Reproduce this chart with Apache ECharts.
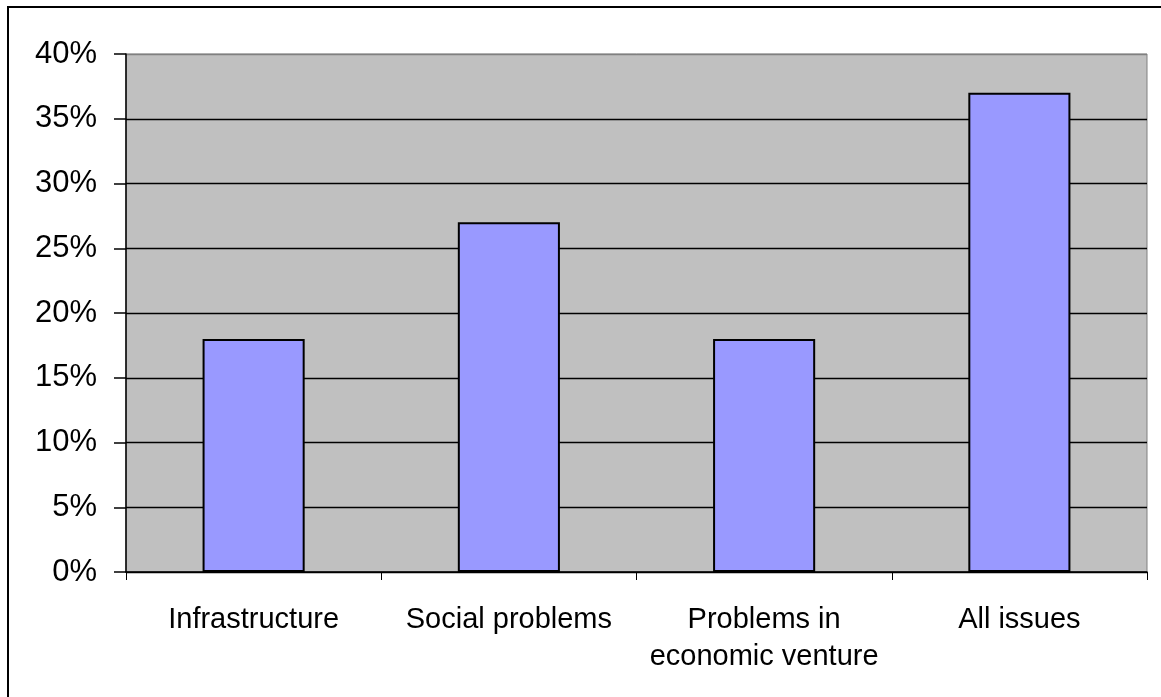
<!DOCTYPE html>
<html>
<head>
<meta charset="utf-8">
<script src="https://cdn.jsdelivr.net/npm/echarts@6/dist/echarts.min.js"></script>
<style>
html, body { margin: 0; padding: 0; background: #fff; }
#chart { width: 1161px; height: 697px; }
</style>
</head>
<body>
<div id="chart"></div>
<script>
// data
const categories = ['Infrastructure', 'Social problems', 'Problems in\neconomic venture', 'All issues'];
const shares = [18, 27, 18, 37];

// grid lines: black, except the top one which is the gray plot border
const splitColors = ['#000', '#000', '#000', '#000', '#000', '#000', '#000', '#000', '#808080'];

const chart = echarts.init(document.getElementById('chart'));

const option = {
    animation: false,
    textStyle: { fontFamily: 'Liberation Sans, Arial, sans-serif' },
    graphic: [
        {
            // outer frame, only top and left edges fall inside the picture
            type: 'rect',
            shape: { x: 8, y: 7, width: 1200, height: 800 },
            style: { fill: 'none', stroke: '#000', lineWidth: 2 },
            z: 100
        }
    ],
    grid: {
        left: 126,
        top: 54,
        right: 14,
        bottom: 125,
        show: true,
        backgroundColor: '#C0C0C0',
        borderColor: '#808080',
        borderWidth: 1
    },
    xAxis: {
        type: 'category',
        data: categories,
        axisLine: { lineStyle: { color: '#000', width: 1.5 } },
        axisTick: { show: true, length: 8, lineStyle: { color: '#000' } },
        axisLabel: {
            color: '#000',
            fontSize: 29,
            lineHeight: 37,
            margin: 29,
            interval: 0
        }
    },
    yAxis: {
        type: 'value',
        min: 0,
        max: 40,
        interval: 5,
        axisLine: { show: true, lineStyle: { color: '#000', width: 1.5 } },
        axisTick: { show: true, length: 12, lineStyle: { color: '#000', width: 1.5 } },
        axisLabel: {
            color: '#000',
            fontSize: 31,
            margin: 29,
            formatter: '{value}%'
        },
        splitLine: { show: true, lineStyle: { color: splitColors, width: 1.3 } }
    },
    series: [
        {
            type: 'bar',
            data: shares,
            barWidth: '40%',
            itemStyle: {
                color: '#9999FF',
                borderColor: '#000',
                borderWidth: 2
            }
        }
    ]
};

chart.setOption(option);
</script>
</body>
</html>
